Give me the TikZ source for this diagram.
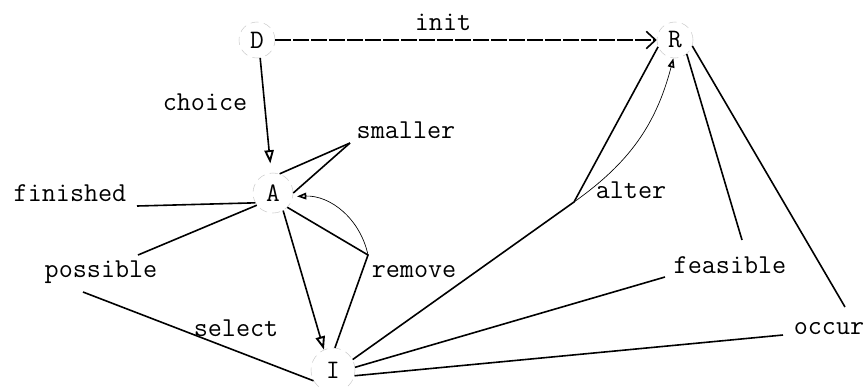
\documentclass[tikz,border=0pt]{standalone}
\usepackage{fontspec}
\usepackage{tikz}
\usetikzlibrary{arrows.meta, positioning, calc}

\begin{document}
\begin{tikzpicture}[
    x=0.75pt, y=-0.75pt,
    place/.style={circle, draw=gray!40, line width=0.4pt, dash pattern=on 6pt off 4pt, inner sep=0pt, font=\fontsize{20}{24}\selectfont\ttfamily},
    lbl/.style={anchor=base, inner sep=0pt, font=\fontsize{20.5}{24}\selectfont\ttfamily},
    link/.style={line width=1.2pt},
    hatch/.style={line width=1.2pt, -{Triangle[open, length=10pt, width=7pt, line width=1.4pt]}},
    bow/.style={line width=0.5pt, -{Triangle[open, length=7pt, width=5pt, line width=1.2pt]}}
]
    \useasboundingbox (0,0) rectangle (866,387);

    \node[place, minimum size=27pt] (D) at (257,40) {D};
    \node[place, minimum size=27pt] (R) at (675,40) {R};
    \node[place, minimum size=30pt] (A) at (273,193) {A};
    \node[place, minimum size=33pt] (I) at (333,370) {I};

    \node[lbl] (init) at (443,30) {init};
    \node[lbl] (choice) at (205,110) {choice};
    \node[lbl] (smaller) at (406,138) {smaller};
    \node[lbl] (finished) at (70,201) {finished};
    \node[lbl] (possible) at (101,277) {possible};
    \node[lbl] (remove) at (414,277) {remove};
    \node[lbl] (select) at (236,336) {select};
    \node[lbl] (alter) at (631,198) {alter};
    \node[lbl] (feasible) at (730,273) {feasible};
    \node[lbl] (occur) at (829,334) {occur};

    \coordinate (sm) at (350,143);
    \coordinate (fin) at (137,206);
    \coordinate (posA) at (138,255);
    \coordinate (posI) at (83,292);
    \coordinate (rem) at (368,255);
    \coordinate (alt) at (574,202);
    \coordinate (feaI) at (665,277);
    \coordinate (feaR) at (742,240);
    \coordinate (occI) at (783,335);
    \coordinate (occR) at (845,307);

    \draw[link, dash pattern=on 12pt off 1.5pt, -{Straight Barb[length=7pt, width=13pt]}] (D.east) -- (R.west);
    \draw[hatch, shorten >=7pt] (D.280) -- (A.95);
    \draw[link] (sm) -- (A.71);
    \draw[link] (sm) -- (A.0);
    \draw[link] (fin) -- (A.209);
    \draw[link] (posA) -- (A.217);
    \draw[link] (posI) -- (I.209);
    \draw[hatch] (A.300) -- (I.114);
    \draw[link] (A.315) -- (rem) -- (I.85);
    \draw[bow, shorten >=3pt] (rem) to[bend right=40] (A.350);
    \draw[link] (I.28) -- (alt) -- (R.202);
    \draw[bow] (alt) to[bend right=20] (R.265);
    \draw[link] (I.7) -- (feaI);
    \draw[link] (feaR) -- (R.310);
    \draw[link] (I.345) -- (occI);
    \draw[link] (occR) -- (R.341);
\end{tikzpicture}
\end{document}
